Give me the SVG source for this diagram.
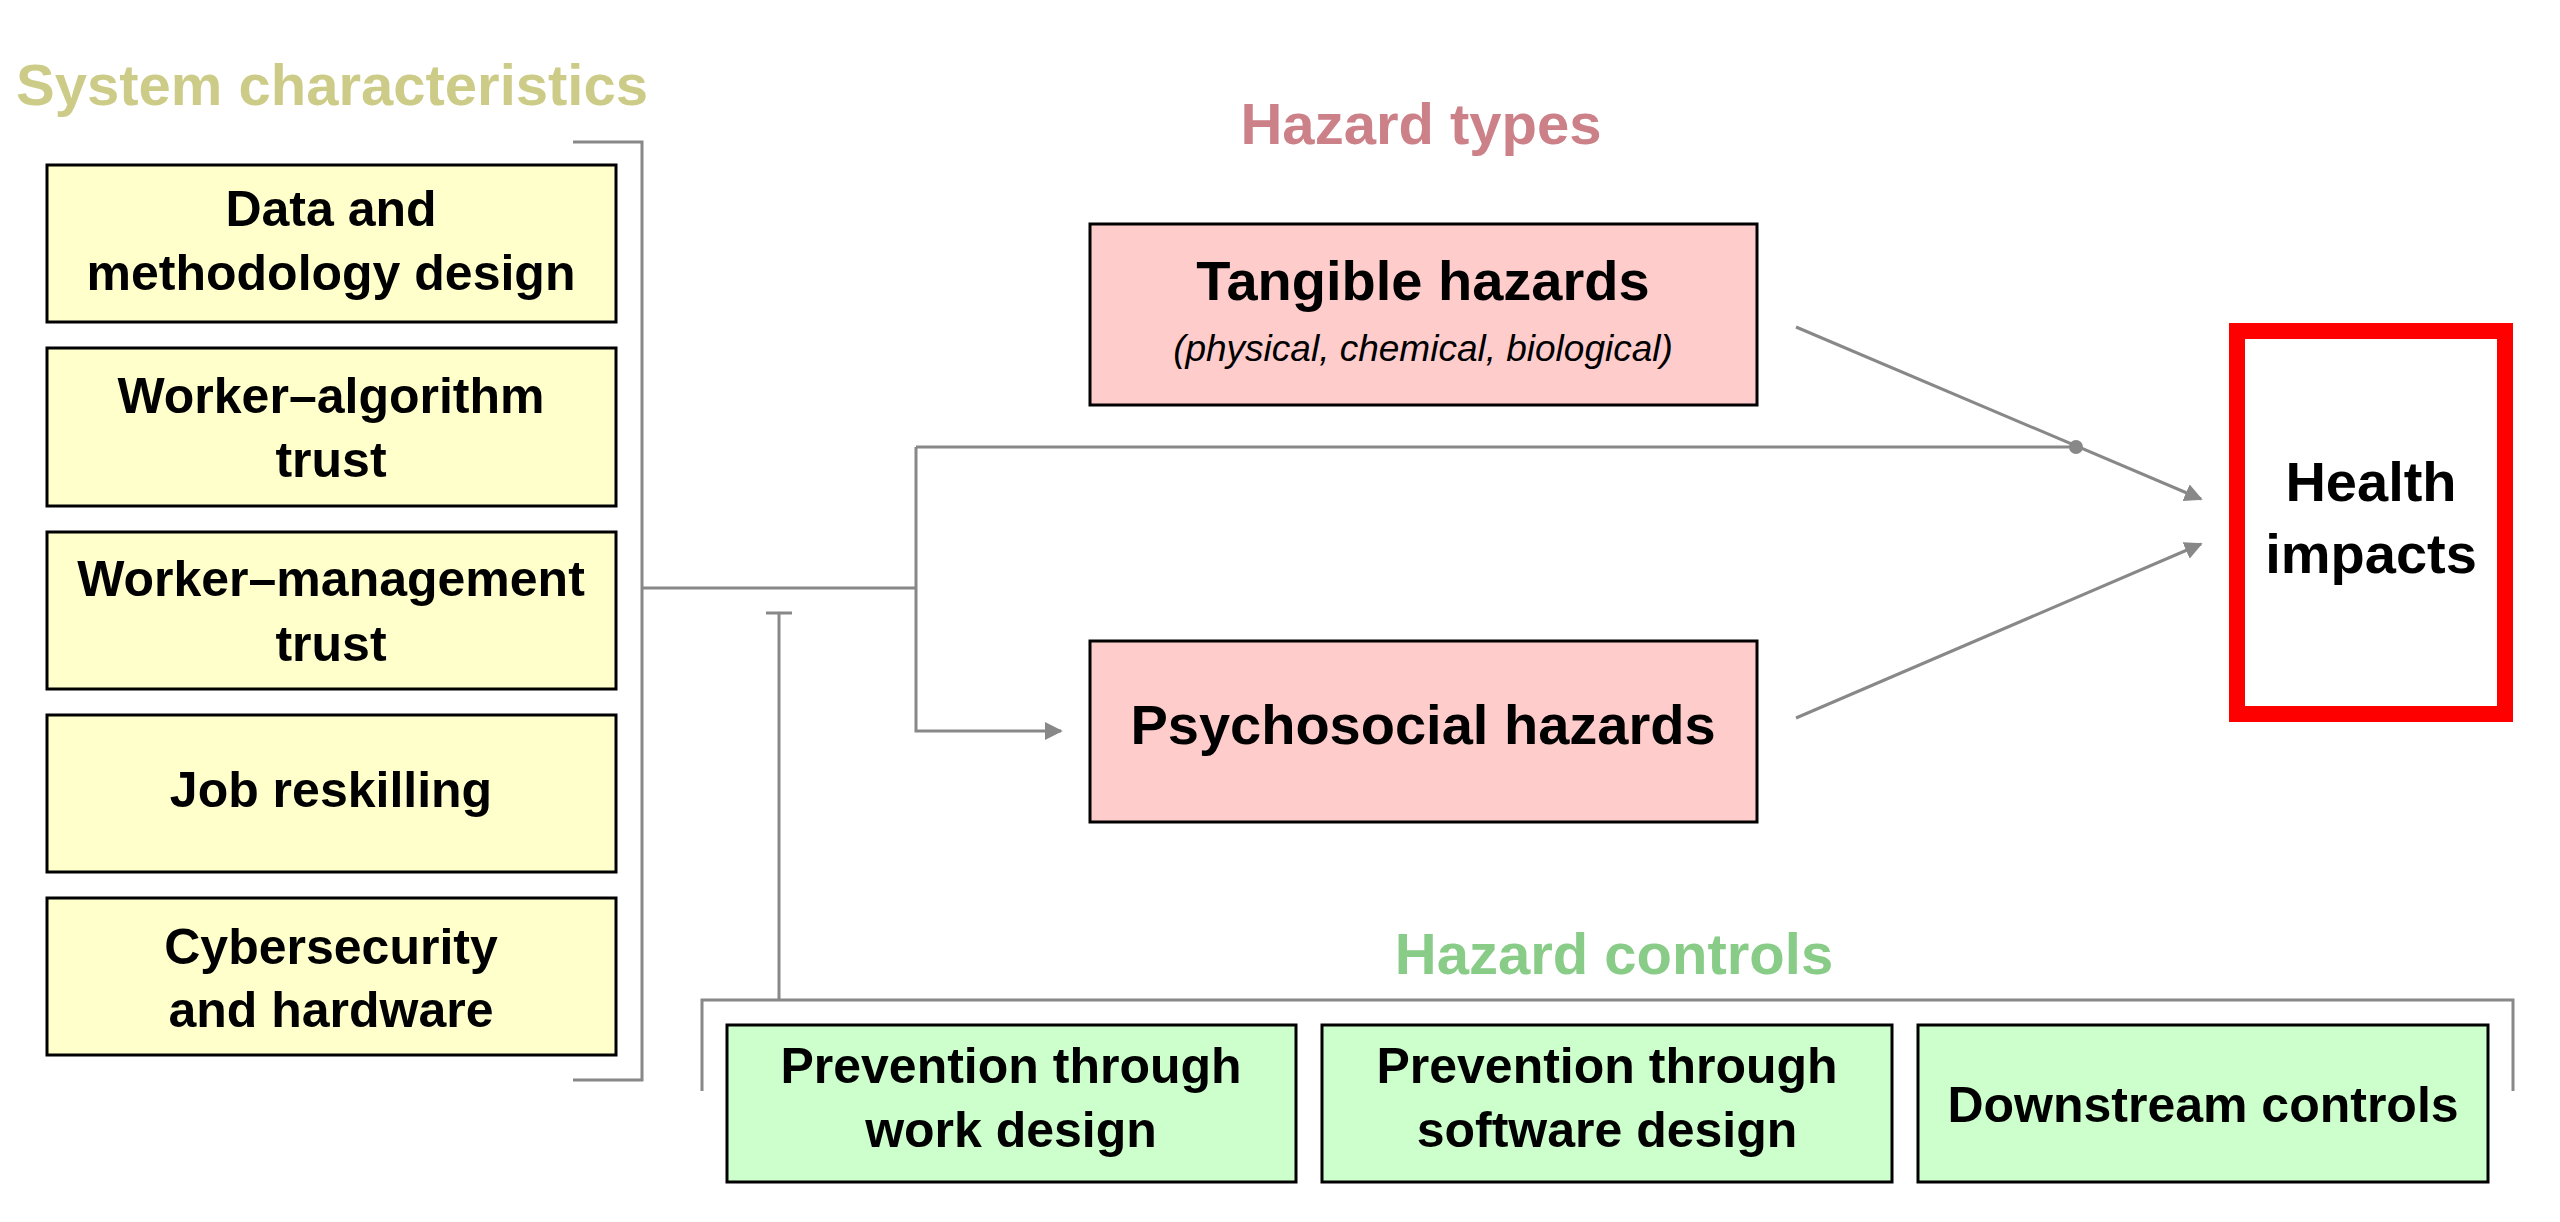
<svg xmlns="http://www.w3.org/2000/svg" width="2560" height="1222" viewBox="0 0 2560 1222">
<style>
text{font-family:"Liberation Sans",Arial,sans-serif;font-weight:bold;text-anchor:middle;fill:#000}
.y{fill:#ffffcc;stroke:#000;stroke-width:3}
.p{fill:#ffcccc;stroke:#000;stroke-width:3}
.g{fill:#ccffcc;stroke:#000;stroke-width:3}
.t{font-size:50px}
.l{fill:none;stroke:#888;stroke-width:3}
.h{font-size:58px}
</style>
<defs><marker id="a" viewBox="0 0 10 10" refX="9" refY="5" markerWidth="6" markerHeight="6" orient="auto"><path d="M0,0L10,5L0,10z" fill="#888"/></marker></defs>
<rect width="2560" height="1222" fill="#fff"/>
<text class="h" x="16" y="105" style="text-anchor:start;fill:#cccc88">System characteristics</text>
<text class="h" x="1421" y="144" style="fill:#cc8088">Hazard types</text>
<text class="h" x="1614" y="974" style="fill:#88cc88">Hazard controls</text>
<g id="connectors">
<path class="l" d="M573,142H642V1080H573"/>
<path class="l" d="M642,588H916"/>
<path class="l" d="M916,447V731H1061" marker-end="url(#a)"/>
<path class="l" d="M916,447H2076"/>
<circle cx="2076" cy="447" r="7" fill="#888"/>
<path class="l" d="M1796,327L2201,499" marker-end="url(#a)"/>
<path class="l" d="M1796,718L2201,544" marker-end="url(#a)"/>
<path class="l" d="M766,613H792M779,613V1000"/>
<path class="l" d="M702,1091V1000H2513V1091"/>
</g>
<g id="n1"><rect class="y" x="47" y="165" width="569" height="157"/><text class="t" x="331" y="226">Data and</text><text class="t" x="331" y="290">methodology design</text></g>
<g id="n2"><rect class="y" x="47" y="348" width="569" height="158"/><text class="t" x="331" y="413">Worker–algorithm</text><text class="t" x="331" y="477">trust</text></g>
<g id="n3"><rect class="y" x="47" y="532" width="569" height="157"/><text class="t" x="331" y="596">Worker–management</text><text class="t" x="331" y="661">trust</text></g>
<g id="n4"><rect class="y" x="47" y="715" width="569" height="157"/><text class="t" x="331" y="807">Job reskilling</text></g>
<g id="n5"><rect class="y" x="47" y="898" width="569" height="157"/><text class="t" x="331" y="964">Cybersecurity</text><text class="t" x="331" y="1027">and hardware</text></g>
<g id="tangible"><rect class="p" x="1090" y="224" width="667" height="181"/><text x="1423" y="300" font-size="56">Tangible hazards</text><text x="1423" y="361" font-size="37" style="font-weight:normal;font-style:italic">(physical, chemical, biological)</text></g>
<g id="psych"><rect class="p" x="1090" y="641" width="667" height="181"/><text x="1423" y="744" font-size="56">Psychosocial hazards</text></g>
<g id="health"><rect x="2237" y="331" width="268" height="383" fill="none" stroke="#ff0000" stroke-width="16"/><text x="2371" y="501" font-size="56">Health</text><text x="2371" y="573" font-size="56">impacts</text></g>
<g id="g1"><rect class="g" x="727" y="1025" width="569" height="157"/><text class="t" x="1011" y="1083">Prevention through</text><text class="t" x="1011" y="1147">work design</text></g>
<g id="g2"><rect class="g" x="1322" y="1025" width="570" height="157"/><text class="t" x="1607" y="1083">Prevention through</text><text class="t" x="1607" y="1147">software design</text></g>
<g id="g3"><rect class="g" x="1918" y="1025" width="570" height="157"/><text class="t" x="2203" y="1122">Downstream controls</text></g>
</svg>
